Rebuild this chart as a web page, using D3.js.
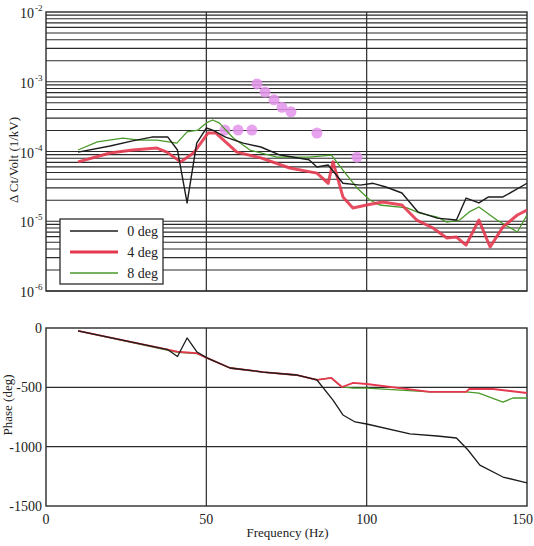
<!DOCTYPE html>
<html>
<head>
<meta charset="utf-8">
<script src="https://cdn.jsdelivr.net/npm/d3@7"></script>
<style>
  body { margin: 0; background: #fff; }
  svg { display: block; font-family: "Liberation Serif", "DejaVu Serif", serif; }
</style>
</head>
<body>
<svg id="chart" width="534" height="546"></svg>
<script>
// magnitude, 0 deg
const magFreq0 = [10, 20, 27, 33, 38, 41, 44, 47, 50, 52, 56, 61.5, 67, 73, 82, 84.5, 88, 92.6, 98, 102, 106, 111, 116, 122, 128, 131, 135, 138, 142.5, 150];
const magVal0 = [9.8e-5, 1.2e-4, 1.42e-4, 1.61e-4, 1.61e-4, 1.05e-4, 1.83e-5, 1.32e-4, 2.17e-4, 2.03e-4, 1.61e-4, 1.32e-4, 1.16e-4, 8.9e-5, 7.6e-5, 6.0e-5, 6.4e-5, 3.5e-5, 3.3e-5, 3.5e-5, 3.1e-5, 2.54e-5, 1.36e-5, 1.11e-5, 1.04e-5, 2.15e-5, 1.83e-5, 2.23e-5, 2.23e-5, 3.5e-5];
// magnitude, 4 deg
const magFreq4 = [10, 20, 27, 34.6, 37.7, 42, 46, 50.5, 53, 59.5, 67, 76, 84.5, 88, 89.5, 92.6, 95.7, 100, 105, 111, 115.6, 120.7, 125, 128, 131, 135, 138.5, 142.5, 147, 150];
const magVal4 = [7.1e-5, 9.5e-5, 1.05e-4, 1.12e-4, 9.8e-5, 7.1e-5, 9.5e-5, 1.84e-4, 1.84e-4, 9.8e-5, 8.1e-5, 5.8e-5, 4.9e-5, 3.5e-5, 7.1e-5, 2.23e-5, 1.55e-5, 1.71e-5, 1.89e-5, 1.71e-5, 1.04e-5, 8.0e-6, 5.75e-6, 5.94e-6, 4.56e-6, 1.04e-5, 4.27e-6, 8.3e-6, 1.23e-5, 1.45e-5];
// magnitude, 8 deg
const magFreq8 = [10, 16, 24, 29, 34.6, 40.8, 44, 47.4, 50, 52, 54, 58.4, 63.6, 72, 82, 89, 92.6, 97, 101, 104, 112.6, 116.6, 122, 125, 129, 132, 135, 140.6, 147, 150];
const magVal8 = [1.05e-4, 1.37e-4, 1.56e-4, 1.46e-4, 1.46e-4, 1.32e-4, 1.91e-4, 2.03e-4, 2.57e-4, 2.83e-4, 2.57e-4, 1.56e-4, 1.05e-4, 8.3e-5, 8.3e-5, 8.9e-5, 5.4e-5, 3.0e-5, 2.02e-5, 1.71e-5, 1.55e-5, 1.31e-5, 1.15e-5, 9.7e-6, 1.04e-5, 1.36e-5, 1.6e-5, 1.04e-5, 7.0e-6, 1.23e-5];
// pink markers
const dotFreq = [55.8, 59.9, 64.2, 65.8, 68.3, 71.1, 73.6, 76.4, 84.5, 97];
const dotVal = [2.03e-4, 2.03e-4, 2.03e-4, 9.3e-4, 7.1e-4, 5.5e-4, 4.3e-4, 3.7e-4, 1.84e-4, 8.3e-5];

// phase
const phFreq0 = [10, 38, 41, 44, 47, 50, 57.4, 67.7, 78, 84.5, 89.5, 92.6, 96.4, 100, 113.5, 122, 128, 131.6, 135.3, 142.5, 150];
const phVal0 = [-25, -183, -240, -84, -200, -250, -337, -371, -396, -438, -607, -733, -792, -809, -893, -910, -927, -1028, -1155, -1256, -1306];
const phFreq4 = [10, 41, 47, 50, 57.4, 67.7, 78, 84.5, 89, 92.3, 95.8, 100, 119.7, 131, 132, 139.4, 150];
const phVal4 = [-25, -200, -212, -250, -337, -371, -396, -438, -421, -497, -463, -472, -539, -539, -514, -514, -548];
const phFreq8 = [10, 41, 47, 50, 57.4, 67.7, 78, 84.5, 89, 92.3, 95.8, 100, 119.7, 131, 135, 142.5, 145.6, 150];
const phVal8 = [-25, -205, -215, -250, -337, -371, -396, -438, -421, -497, -506, -506, -539, -539, -548, -624, -590, -590];

const legendLabels = ["0 deg", "4 deg", "8 deg"];
const seriesColors = ["#1c1c1c", "#e5384f", "#4a9a2a"];
const seriesWidths = [1.4, 3, 1.3];

const magExp = [-2, -3, -4, -5, -6];
const phaseTicks = [0, -500, -1000, -1500];
const freqTicks = [0, 50, 100, 150];

const zip = (fs, vs) => fs.map((f, i) => ({f: f, v: vs[i]}));
const magSeries = [zip(magFreq0, magVal0), zip(magFreq4, magVal4), zip(magFreq8, magVal8)];
const phSeries = [zip(phFreq0, phVal0), zip(phFreq4, phVal4), zip(phFreq8, phVal8)];

const svg = d3.select("#chart");
const gridColor = "#2b2b2b";

const x = d3.scaleLinear().domain([0, 150]).range([46, 527]);
const yMag = d3.scaleLog().domain([1e-6, 1e-2]).range([291, 12]);
const yPh = d3.scaleLinear().domain([-1500, 0]).range([506, 328]);

const defs = svg.append("defs");
defs.append("clipPath").attr("id", "clipTop")
    .append("rect").attr("x", x(0)).attr("y", yMag(1e-2)).attr("width", x(150) - x(0)).attr("height", yMag(1e-6) - yMag(1e-2));
defs.append("clipPath").attr("id", "clipBot")
    .append("rect").attr("x", x(0)).attr("y", yPh(0)).attr("width", x(150) - x(0)).attr("height", yPh(-1500) - yPh(0));

// ---- top panel: magnitude ----
const magPanel = svg.append("g");
const minorVals = [];
for (let e = -6; e < -2; e++) {
    for (let k = 1; k <= 9; k++) minorVals.push(k * Math.pow(10, e));
}
magPanel.selectAll("line.hgrid")
    .data(minorVals)
    .enter()
    .append("line")
        .attr("x1", x(0)).attr("x2", x(150))
        .attr("y1", d => yMag(d)).attr("y2", d => yMag(d))
        .attr("stroke", gridColor)
        .attr("stroke-width", 1.2);
magPanel.selectAll("line.vgrid")
    .data([50, 100])
    .enter()
    .append("line")
        .attr("x1", d => x(d)).attr("x2", d => x(d))
        .attr("y1", yMag(1e-2)).attr("y2", yMag(1e-6))
        .attr("stroke", gridColor)
        .attr("stroke-width", 1.2);
magPanel.append("rect")
    .attr("x", x(0)).attr("y", yMag(1e-2))
    .attr("width", x(150) - x(0)).attr("height", yMag(1e-6) - yMag(1e-2))
    .attr("fill", "none")
    .attr("stroke", gridColor)
    .attr("stroke-width", 1.4);

// tick labels 10^n
magPanel.selectAll("text.mag")
    .data(magExp)
    .enter()
    .append("text")
        .attr("x", 34)
        .attr("y", d => yMag(Math.pow(10, d)) + 6)
        .attr("text-anchor", "end")
        .attr("font-size", "14px")
        .attr("fill", "#222")
        .text("10");
magPanel.selectAll("text.magexp")
    .data(magExp)
    .enter()
    .append("text")
        .attr("x", 35)
        .attr("y", d => yMag(Math.pow(10, d)) - 1)
        .attr("font-size", "9px")
        .attr("fill", "#222")
        .text(d => d);

const plotTop = magPanel.append("g").attr("clip-path", "url(#clipTop)");
const magLine = d3.line().x(d => x(d.f)).y(d => yMag(d.v));

// pink markers under the lines
plotTop.selectAll("circle.dot")
    .data(zip(dotFreq, dotVal))
    .enter()
    .append("circle")
        .attr("cx", d => x(d.f))
        .attr("cy", d => yMag(d.v))
        .attr("r", 5.5)
        .attr("fill", "#e393ea")
        .attr("fill-opacity", 0.85);

[2, 1, 0].forEach(i => {
    plotTop.append("path")
        .datum(magSeries[i])
        .attr("d", magLine)
        .attr("fill", "none")
        .attr("stroke", seriesColors[i])
        .attr("stroke-width", seriesWidths[i])
        .attr("stroke-opacity", i == 1 ? 0.9 : 1)
        .attr("stroke-linejoin", "round");
});

// legend
const legend = magPanel.append("g");
legend.append("rect")
    .attr("x", 60).attr("y", 219)
    .attr("width", 103).attr("height", 65)
    .attr("fill", "#fff")
    .attr("stroke", gridColor)
    .attr("stroke-width", 1.3);
legendLabels.forEach((lab, i) => {
    const ly = 231 + i * 21;
    legend.append("line")
        .attr("x1", 70).attr("x2", 118)
        .attr("y1", ly).attr("y2", ly)
        .attr("stroke", seriesColors[i])
        .attr("stroke-width", seriesWidths[i]);
    legend.append("text")
        .attr("x", 158).attr("y", ly + 5)
        .attr("text-anchor", "end")
        .attr("font-size", "14px")
        .attr("fill", "#222")
        .text(lab);
});

svg.append("text")
    .attr("transform", "translate(18, 160) rotate(-90)")
    .attr("text-anchor", "middle")
    .attr("font-size", "13px")
    .attr("fill", "#222")
    .text("Δ Ct/Volt (1/kV)");

// ---- bottom panel: phase ----
const phPanel = svg.append("g");
phPanel.selectAll("line.hgrid")
    .data([-500, -1000])
    .enter()
    .append("line")
        .attr("x1", x(0)).attr("x2", x(150))
        .attr("y1", d => yPh(d)).attr("y2", d => yPh(d))
        .attr("stroke", gridColor)
        .attr("stroke-width", 1.2);
phPanel.selectAll("line.vgrid")
    .data([50, 100])
    .enter()
    .append("line")
        .attr("x1", d => x(d)).attr("x2", d => x(d))
        .attr("y1", yPh(0)).attr("y2", yPh(-1500))
        .attr("stroke", gridColor)
        .attr("stroke-width", 1.2);
phPanel.append("rect")
    .attr("x", x(0)).attr("y", yPh(0))
    .attr("width", x(150) - x(0)).attr("height", yPh(-1500) - yPh(0))
    .attr("fill", "none")
    .attr("stroke", gridColor)
    .attr("stroke-width", 1.4);

phPanel.selectAll("text.ph")
    .data(phaseTicks)
    .enter()
    .append("text")
        .attr("x", 42)
        .attr("y", d => yPh(d) + 5)
        .attr("text-anchor", "end")
        .attr("font-size", "14px")
        .attr("fill", "#222")
        .text(d => d);

phPanel.selectAll("text.fq")
    .data(freqTicks)
    .enter()
    .append("text")
        .attr("x", d => d == 150 ? 533 : x(d))
        .attr("y", 524)
        .attr("text-anchor", d => d == 150 ? "end" : "middle")
        .attr("font-size", "14px")
        .attr("fill", "#222")
        .text(d => d);

const plotBot = phPanel.append("g").attr("clip-path", "url(#clipBot)");
const phLine = d3.line().x(d => x(d.f)).y(d => yPh(d.v));
[2, 1, 0].forEach(i => {
    plotBot.append("path")
        .datum(phSeries[i])
        .attr("d", phLine)
        .attr("fill", "none")
        .attr("stroke", seriesColors[i])
        .attr("stroke-width", i == 1 ? 1.8 : 1.3)
        .attr("stroke-linejoin", "round");
});

svg.append("text")
    .attr("x", x(75) + 1)
    .attr("y", 537)
    .attr("text-anchor", "middle")
    .attr("font-size", "13px")
    .attr("fill", "#222")
    .text("Frequency (Hz)");

svg.append("text")
    .attr("transform", "translate(12, 405) rotate(-90)")
    .attr("text-anchor", "middle")
    .attr("font-size", "13px")
    .attr("fill", "#222")
    .text("Phase (deg)");
</script>
</body>
</html>
